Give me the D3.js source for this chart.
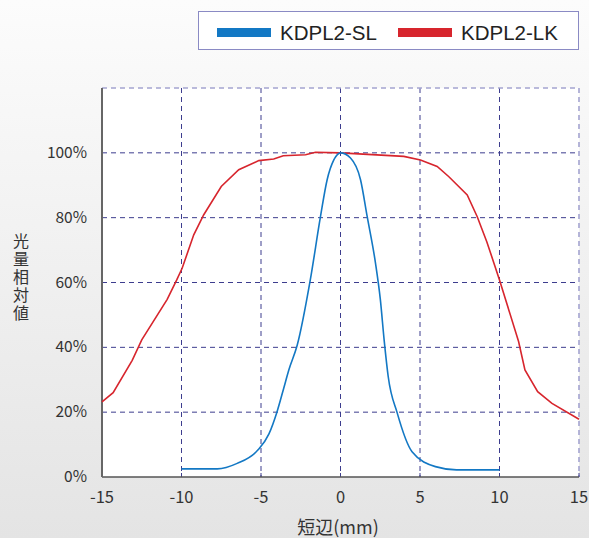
<!DOCTYPE html>
<html>
<head>
<meta charset="utf-8">
<title>KDPL2 短辺 光量分布</title>
<script src="https://cdnjs.cloudflare.com/ajax/libs/d3/7.8.5/d3.min.js"></script>
<style>
  body { margin: 0; }
  svg text { font-family: "Noto Sans CJK JP", "Liberation Sans", sans-serif; }
</style>
</head>
<body>
<div id="chart"></div>
<script>
// data (x in mm, y in % of peak)
var seriesNames = ["KDPL2-SL", "KDPL2-LK"];
var seriesColors = ["#1378c4", "#d7252d"];
var slX = [-10, -7.75, -6.5, -5.2, -4.5, -4.0, -3.57, -3.25, -2.72, -1.9, -1.26, -0.84, -0.42, 0, 0.63, 1.26, 1.68, 2.2, 2.5, 2.75, 3.0, 3.57, 4.5, 5.97, 7.3, 10];
var slY = [2.5, 2.5, 4.2, 8.3, 13.3, 20, 27.4, 33, 40.7, 60.8, 80.3, 91.7, 97.8, 100, 98.4, 91.7, 80.3, 66, 55, 42, 31, 19.7, 7.8, 3.2, 2.2, 2.2];
var lkX = [-15, -14.3, -13.1, -12.5, -10.9, -10.3, -9.96, -9.23, -8.6, -7.5, -6.4, -5.14, -4.2, -3.6, -2.2, -1.57, 0, 3.98, 5.03, 6.08, 6.8, 7.97, 8.6, 9.2, 10.0, 11.2, 11.6, 12.4, 13.3, 15];
var lkY = [23.2, 26, 36, 42.3, 54.8, 60.8, 64.4, 74.7, 80.9, 89.6, 94.8, 97.6, 98.1, 99.1, 99.4, 100.2, 100, 98.9, 97.8, 95.8, 92.7, 87, 80.3, 72.6, 60.8, 41.8, 33, 26.3, 22.7, 17.8];
var xTicks = [-15, -10, -5, 0, 5, 10, 15];
var yTicks = [0, 20, 40, 60, 80, 100];

var width = 589, height = 538;
var plotL = 102, plotR = 579, plotT = 88, plotB = 477;

var svg = d3.select("#chart").append("svg")
  .attr("width", width).attr("height", height);

var defs = svg.append("defs");
var grad = defs.append("linearGradient").attr("id", "bg")
  .attr("x1", 0).attr("y1", 0).attr("x2", 0).attr("y2", 1);
grad.append("stop").attr("offset", "0%").attr("stop-color", "#fcfcfc");
grad.append("stop").attr("offset", "100%").attr("stop-color", "#e4e4e4");

svg.append("rect").attr("width", width).attr("height", height).attr("fill", "url(#bg)");

var x = d3.scaleLinear().domain([-15, 15]).range([plotL, plotR]);
var y = d3.scaleLinear().domain([0, 120]).range([plotB, plotT]);

// plot area
svg.append("rect")
  .attr("x", plotL).attr("y", plotT)
  .attr("width", plotR - plotL).attr("height", plotB - plotT)
  .attr("fill", "#ffffff");

// grid
var grid = svg.append("g").attr("fill", "none").attr("stroke-dasharray", "5,4");
grid.selectAll(".gx").data(xTicks.slice(1)).enter().append("line")
  .attr("x1", function(d) { return x(d); }).attr("x2", function(d) { return x(d); })
  .attr("y1", plotT).attr("y2", plotB)
  .attr("stroke", function(d) { return d === 15 ? "#a4a4d0" : "#3d3d8e"; })
  .attr("stroke-width", function(d) { return d === 15 ? 1.6 : 1; });
grid.selectAll(".gy").data(yTicks.slice(1).concat([120])).enter().append("line")
  .attr("x1", plotL).attr("x2", plotR)
  .attr("y1", function(d) { return y(d); }).attr("y2", function(d) { return y(d); })
  .attr("stroke", function(d) { return d === 120 ? "#a4a4d0" : "#3d3d8e"; })
  .attr("stroke-width", function(d) { return d === 120 ? 1.6 : 1; });

// bottom ticks
svg.selectAll(".bt").data(xTicks.slice(1)).enter().append("line")
  .attr("x1", function(d) { return x(d); }).attr("x2", function(d) { return x(d); })
  .attr("y1", plotB).attr("y2", plotB - 4)
  .attr("stroke", "#3d3d8e").attr("stroke-width", 1);

// axes lines
svg.append("line").attr("x1", plotL).attr("x2", plotR).attr("y1", plotB).attr("y2", plotB)
  .attr("stroke", "#555").attr("stroke-width", 1.5);
svg.append("line").attr("x1", plotL).attr("x2", plotL).attr("y1", plotT).attr("y2", plotB)
  .attr("stroke", "#666").attr("stroke-width", 2);

// tick labels
svg.selectAll(".yl").data(yTicks).enter().append("text")
  .attr("x", 87).attr("y", function(d) { return y(d) + 5; })
  .attr("text-anchor", "end").attr("font-size", 15.5).attr("fill", "#333")
  .text(function(d) { return d + "%"; });
svg.selectAll(".xl").data(xTicks).enter().append("text")
  .attr("x", function(d) { return x(d); }).attr("y", 503)
  .attr("text-anchor", "middle").attr("font-size", 16.5).attr("fill", "#333")
  .text(function(d) { return d; });

// axis titles
svg.append("text").attr("x", 338).attr("y", 534)
  .attr("text-anchor", "middle").attr("font-size", 18).attr("fill", "#333")
  .text("短辺(mm)");
// vertical title, one text element
svg.append("text").attr("x", 21).attr("y", 233)
  .attr("font-size", 16).attr("fill", "#333")
  .style("writing-mode", "vertical-rl")
  .style("letter-spacing", "2px")
  .text("光量相対値");

// lines
var slData = slX.map(function(v, i) { return [v, slY[i]]; });
var lkData = lkX.map(function(v, i) { return [v, lkY[i]]; });

svg.append("path").datum(lkData)
  .attr("fill", "none").attr("stroke", seriesColors[1]).attr("stroke-width", 1.6)
  .attr("d", d3.line().x(function(d) { return x(d[0]); }).y(function(d) { return y(d[1]); }));
svg.append("path").datum(slData)
  .attr("fill", "none").attr("stroke", seriesColors[0]).attr("stroke-width", 1.6)
  .attr("d", d3.line().curve(d3.curveMonotoneX)
    .x(function(d) { return x(d[0]); }).y(function(d) { return y(d[1]); }));

// legend
var lg = svg.append("g");
lg.append("rect").attr("x", 198.5).attr("y", 11.5).attr("width", 380).attr("height", 38)
  .attr("fill", "#fff").attr("stroke", "#8a8ac4").attr("stroke-width", 1);
var legX = [217, 398];
seriesNames.forEach(function(name, i) {
  lg.append("rect").attr("x", legX[i]).attr("y", 28).attr("width", 54).attr("height", 9)
    .attr("fill", seriesColors[i]);
  lg.append("text").attr("x", legX[i] + 63).attr("y", 39.5)
    .attr("font-size", 20.5).attr("fill", "#222")
    .style("font-family", "'Liberation Sans', Arial, sans-serif")
    .text(name);
});
</script>
</body>
</html>
